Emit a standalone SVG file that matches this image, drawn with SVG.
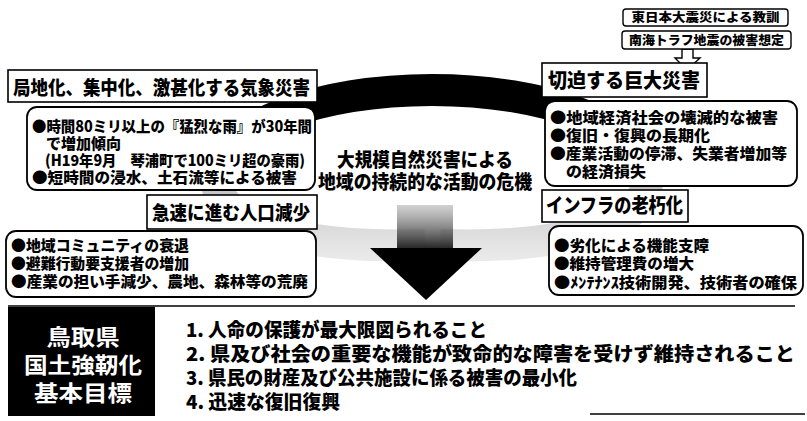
<svg xmlns="http://www.w3.org/2000/svg" width="807" height="421" viewBox="0 0 807 421">
<style>
text{font-family:"Noto Sans CJK JP","Noto Sans CJK SC",sans-serif;font-weight:900;fill:#000}
.ttl{stroke:#000;stroke-width:1.6;fill:#fff}
.bul{stroke:#000;stroke-width:1.8;fill:#fff}
.sm{stroke:#000;stroke-width:1.4;fill:#fff}
.t19{font-size:19px}
.t16{font-size:15px}
.t13{font-size:12.5px}
.t20{font-size:20px}
.g{font-size:19px}
.w{fill:#fff;font-weight:700;font-size:22px}
</style>
<defs>
<linearGradient id="ringGrad" gradientUnits="userSpaceOnUse" x1="0" y1="70" x2="0" y2="260">
<stop offset="0" stop-color="#000"/>
<stop offset="0.3" stop-color="#000"/>
<stop offset="0.6" stop-color="#777" stop-opacity="0.45"/>
<stop offset="1" stop-color="#aaa" stop-opacity="0.25"/>
</linearGradient>
<linearGradient id="shaftGrad" x1="0" y1="0" x2="0" y2="1">
<stop offset="0" stop-color="#999" stop-opacity="0.45"/>
<stop offset="1" stop-color="#222"/>
</linearGradient>
</defs>
<rect width="807" height="421" fill="#fff"/>

<g id="connectors">
<path id="ring" d="M425 245 C330 248 217 235 217 180 C217 125 320 90 432 90 C544 90 647 125 647 180 C647 235 530 248 440 245" fill="none" stroke="url(#ringGrad)" stroke-width="32"/>
<g id="big-arrow">
<rect x="397" y="205" width="56" height="44" fill="url(#shaftGrad)"/>
<polygon points="370,248 482,248 426,300" fill="#000"/>
</g>
<polygon id="hollow-arrow" points="682,49 693,49 693,58 700,58 687,70 675,58 682,58" fill="#fff" stroke="#000" stroke-width="1.4"/>
<line x1="8" y1="306" x2="795" y2="306" stroke="#000" stroke-width="1.5"/>
<line x1="590" y1="414" x2="805" y2="414" stroke="#000" stroke-width="1.5"/>
</g>

<g id="weather-title">
<rect class="ttl" x="8" y="70" width="309" height="32"/>
<text class="t19" x="13" y="95" textLength="297" lengthAdjust="spacingAndGlyphs">局地化、集中化、激甚化する気象災害</text>
</g>
<g id="weather-bullets">
<rect class="bul" x="27" y="107" width="288" height="83" rx="10"/>
<text class="t16" x="32" y="132" textLength="280" lengthAdjust="spacingAndGlyphs">●時間80ミリ以上の『猛烈な雨』が30年間</text>
<text class="t16" x="46" y="149">で増加傾向</text>
<text class="t16" x="45" y="166" textLength="260" lengthAdjust="spacingAndGlyphs">(H19年9月　琴浦町で100ミリ超の豪雨)</text>
<text class="t16" x="32" y="183" textLength="265" lengthAdjust="spacingAndGlyphs">●短時間の浸水、土石流等による被害</text>
</g>

<g id="population-title">
<rect class="ttl" x="147" y="195" width="170" height="34"/>
<text class="t19" x="152" y="220" textLength="158" lengthAdjust="spacingAndGlyphs">急速に進む人口減少</text>
</g>
<g id="population-bullets">
<rect class="bul" x="6" y="231" width="310" height="66" rx="10"/>
<text class="t16" x="11" y="251" textLength="178" lengthAdjust="spacingAndGlyphs">●地域コミュニティの衰退</text>
<text class="t16" x="11" y="269" textLength="178" lengthAdjust="spacingAndGlyphs">●避難行動要支援者の増加</text>
<text class="t16" x="11" y="287" textLength="297" lengthAdjust="spacingAndGlyphs">●産業の担い手減少、農地、森林等の荒廃</text>
</g>

<g id="lesson-1">
<rect class="sm" x="623" y="9" width="165" height="17" rx="3"/>
<text class="t13" x="705.5" y="22" text-anchor="middle" textLength="148" lengthAdjust="spacingAndGlyphs">東日本大震災による教訓</text>
</g>
<g id="lesson-2">
<rect class="sm" x="622" y="31" width="169" height="18" rx="3"/>
<text class="t13" x="706.5" y="44.5" text-anchor="middle" textLength="155" lengthAdjust="spacingAndGlyphs">南海トラフ地震の被害想定</text>
</g>

<g id="disaster-title">
<rect class="ttl" x="542" y="63" width="165" height="34"/>
<text class="t20" x="548" y="88" textLength="152" lengthAdjust="spacingAndGlyphs">切迫する巨大災害</text>
</g>
<g id="disaster-bullets">
<rect class="bul" x="545" y="101" width="252" height="85" rx="10"/>
<text class="t16" x="550" y="123" textLength="228" lengthAdjust="spacingAndGlyphs">●地域経済社会の壊滅的な被害</text>
<text class="t16" x="550" y="141" textLength="160" lengthAdjust="spacingAndGlyphs">●復旧・復興の長期化</text>
<text class="t16" x="550" y="159" textLength="237" lengthAdjust="spacingAndGlyphs">●産業活動の停滞、失業者増加等</text>
<text class="t16" x="566" y="177" textLength="80" lengthAdjust="spacingAndGlyphs">の経済損失</text>
</g>

<g id="infra-title">
<rect class="ttl" x="542" y="190" width="146" height="32"/>
<text class="t20" x="546" y="213" textLength="137" lengthAdjust="spacingAndGlyphs">インフラの老朽化</text>
</g>
<g id="infra-bullets">
<rect class="bul" x="549" y="226" width="254" height="69" rx="10"/>
<text class="t16" x="554" y="251" textLength="155" lengthAdjust="spacingAndGlyphs">●劣化による機能支障</text>
<text class="t16" x="554" y="269" textLength="140" lengthAdjust="spacingAndGlyphs">●維持管理費の増大</text>
<text class="t16" x="554" y="288" textLength="243" lengthAdjust="spacingAndGlyphs">●ﾒﾝﾃﾅﾝｽ技術開発、技術者の確保</text>
</g>

<g id="crisis-label">
<text class="t19" x="425" y="167" text-anchor="middle" textLength="176" lengthAdjust="spacingAndGlyphs">大規模自然災害による</text>
<text class="t19" x="425" y="189" text-anchor="middle" textLength="214" lengthAdjust="spacingAndGlyphs">地域の持続的な活動の危機</text>
</g>

<g id="goals-label">
<rect x="8" y="307" width="147" height="109" fill="#000"/>
<text class="w" x="83" y="345" text-anchor="middle" textLength="73" lengthAdjust="spacingAndGlyphs">鳥取県</text>
<text class="w" x="83" y="373" text-anchor="middle" textLength="118" lengthAdjust="spacingAndGlyphs">国土強靭化</text>
<text class="w" x="83" y="401" text-anchor="middle" textLength="98" lengthAdjust="spacingAndGlyphs">基本目標</text>
</g>
<g id="goals-list">
<text class="g" x="186" y="337" textLength="301" lengthAdjust="spacingAndGlyphs">1. 人命の保護が最大限図られること</text>
<text class="g" x="186" y="361" textLength="609" lengthAdjust="spacingAndGlyphs">2. 県及び社会の重要な機能が致命的な障害を受けず維持されること</text>
<text class="g" x="186" y="385" textLength="391" lengthAdjust="spacingAndGlyphs">3. 県民の財産及び公共施設に係る被害の最小化</text>
<text class="g" x="186" y="409" textLength="154" lengthAdjust="spacingAndGlyphs">4. 迅速な復旧復興</text>
</g>
</svg>
